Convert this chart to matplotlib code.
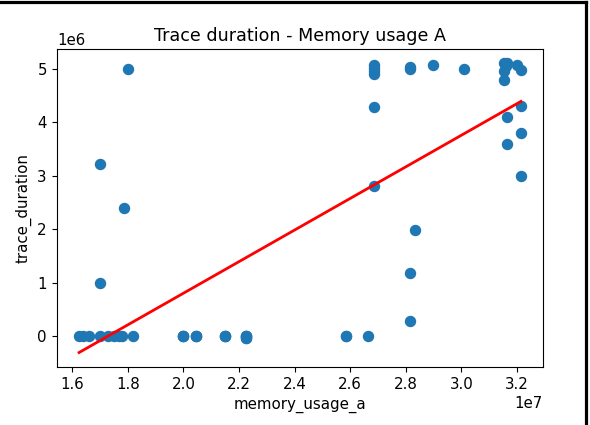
import numpy as np
import matplotlib
matplotlib.use("Agg")
import matplotlib.pyplot as plt
from matplotlib.lines import Line2D

# memory_usage_a (x1e7) and trace_duration (x1e6)
# (zero rows in the 2.0-2.6 range are repeated; they sit on top of each other)
memory_usage_a = [1.625, 1.64, 1.66, 1.70, 1.73, 1.75, 1.77, 1.78, 1.82,
                  2.00, 2.00, 2.00, 2.045, 2.045, 2.045, 2.15, 2.15, 2.15,
                  2.225, 2.225, 2.225, 2.225, 2.225, 2.586, 2.586, 2.664,
                  1.70, 1.70, 1.787, 1.80,
                  2.686, 2.686, 2.686, 2.686, 2.686, 2.686,
                  2.815, 2.815, 2.815, 2.815, 2.834, 2.898, 3.009,
                  3.155, 3.16, 3.165, 3.155, 3.155, 3.163, 3.163,
                  3.20, 3.214, 3.214, 3.214, 3.214]
trace_duration = [0, 0, 0, 0, 0, 0, 0, 0, 0,
                  0, 0, 0, 0, 0, 0, 0, 0, 0,
                  0, 0, 0, -0.03, -0.03, 0, 0, 0,
                  3.22, 1.0, 2.39, 5.0,
                  5.08, 5.02, 4.96, 4.9, 4.28, 2.81,
                  5.0, 5.03, 1.19, 0.28, 1.98, 5.08, 5.0,
                  5.1, 5.05, 5.1, 4.95, 4.8, 4.09, 3.6,
                  5.08, 4.98, 4.31, 3.8, 3.0]

x = np.array(memory_usage_a) * 1e7
y = np.array(trace_duration) * 1e6

# Linear fit
m, b = np.polyfit(x, y, 1)
xs = np.sort(x)

plt.rcParams['font.size'] = 10.8

fig = plt.figure(figsize=(5.9, 4.25), dpi=100)
ax = fig.add_axes([0.0966, 0.1365, 0.8237, 0.7482])
ax.scatter(x, y, s=52, color="#1f77b4")
ax.plot(xs, m * xs + b, color="red", linewidth=2.0)
ax.set_title("Trace duration - Memory usage A", fontsize=12.6)
ax.set_xlabel("memory_usage_a")
ax.set_ylabel("trace_duration")
ax.tick_params(length=3.8)

# screenshot frame (black border top/right)
fig.add_artist(Line2D([0, 0.9935], [0.9955, 0.9955], color="black", lw=2.3,
                      transform=fig.transFigure))
fig.add_artist(Line2D([0.9935, 0.9935], [0, 0.9955], color="black", lw=2.3,
                      transform=fig.transFigure))

fig.savefig("out.png", dpi=100)
